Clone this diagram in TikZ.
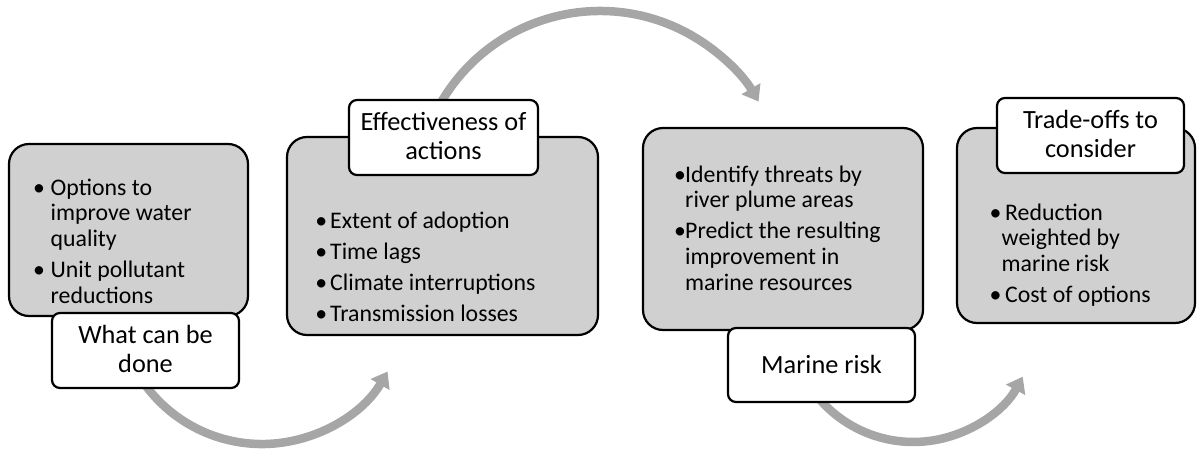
\documentclass[tikz,border=0pt]{standalone}
\usepackage{fontspec}
\setmainfont{Carlito}
\usetikzlibrary{arrows.meta}
\definecolor{boxgray}{RGB}{208,208,208}
\definecolor{arrowgray}{RGB}{166,166,166}
\newcommand{\bstrut}{\rule{0pt}{22pt}}
\begin{document}
\begin{tikzpicture}[x=1pt,y=1pt,
  gbox/.style={draw=black, line width=2.2pt, fill=boxgray, rounded corners=20pt, inner sep=0pt},
  lbox/.style={draw=black, line width=2.2pt, fill=white, rounded corners=8pt, inner sep=0pt},
  btext/.style={anchor=north west, inner sep=0pt, align=left, font=\fontsize{23.8}{25.7}\selectfont},
  ltext/.style={anchor=north, inner sep=0pt, align=center, font=\fontsize{26.3}{29.5}\selectfont},
  flow/.style={draw=arrowgray, line width=8.5pt, -{Triangle[width=21pt,length=15pt]}}]
\useasboundingbox (0,0) rectangle (1200,-450);

% curved arrows (behind)
\coordinate (a1s) at (143.2,-382.2);
\coordinate (a2s) at (440.7,-103);
\coordinate (a3s) at (818.2,-397.6);
\draw[flow] (a1s) arc[start angle=215, end angle=330, radius=145];
\draw[flow] (a2s) arc[start angle=150, end angle=30.5, radius=184];
\draw[flow] (a3s) arc[start angle=220, end angle=331.7, radius=124.2];

% gray boxes
\node[gbox, minimum width=239pt, minimum height=172pt] (b1) at (128.5,-230) {};
\node[gbox, minimum width=311pt, minimum height=198pt] (b2) at (442.5,-236) {};
\node[gbox, minimum width=280pt, minimum height=202pt] (b3) at (783,-229) {};
\node[gbox, minimum width=238pt, minimum height=195pt] (b4) at (1076,-225.5) {};

% box texts
\node[btext] (t1) at (33,-173) {\bstrut\makebox[17.5pt][l]{•}Options to\\
  \hspace*{17.5pt}improve water\\
  \hspace*{17.5pt}quality\\[5.3pt]
  \makebox[17.5pt][l]{•}Unit pollutant\\
  \hspace*{17.5pt}reductions};
\node[btext] (t2) at (315.2,-206) {\bstrut\makebox[14.8pt][l]{•}Extent of adoption\\[5.3pt]
  \makebox[14.8pt][l]{•}Time lags\\[5.3pt]
  \makebox[14.8pt][l]{•}Climate interruptions\\[5.3pt]
  \makebox[14.8pt][l]{•}Transmission losses};
\node[btext] (t3) at (674,-160) {\bstrut\makebox[11pt][l]{•}Identify threats by\\
  \hspace*{11pt}river plume areas\\[5.3pt]
  \makebox[11pt][l]{•}Predict the resulting\\
  \hspace*{11pt}improvement in\\
  \hspace*{11pt}marine resources};
\node[btext] (t4) at (989.3,-198) {\bstrut\makebox[15.7pt][l]{•}Reduction\\
  \hspace*{12.2pt}weighted by\\
  \hspace*{12.2pt}marine risk\\[5.3pt]
  \makebox[15.7pt][l]{•}Cost of options};

% label boxes
\node[lbox, minimum width=187pt, minimum height=75pt] (l1) at (145.5,-350.5) {};
\node[lbox, minimum width=189pt, minimum height=75pt] (l2) at (443.5,-137.5) {};
\node[lbox, minimum width=187pt, minimum height=74pt] (l3) at (821.5,-365) {};
\node[lbox, minimum width=187pt, minimum height=75pt] (l4) at (1090.5,-135.5) {};

\node[ltext] (l1t) at (145.5,-321) {\bstrut What can be\\done};
\node[ltext] (l2t) at (443.5,-108) {\bstrut Effectiveness of\\actions};
\node[ltext] (l3t) at (821.5,-351) {\bstrut Marine risk};
\node[ltext] (l4t) at (1090.5,-106) {\bstrut Trade-offs to\\consider};
\end{tikzpicture}
\end{document}
